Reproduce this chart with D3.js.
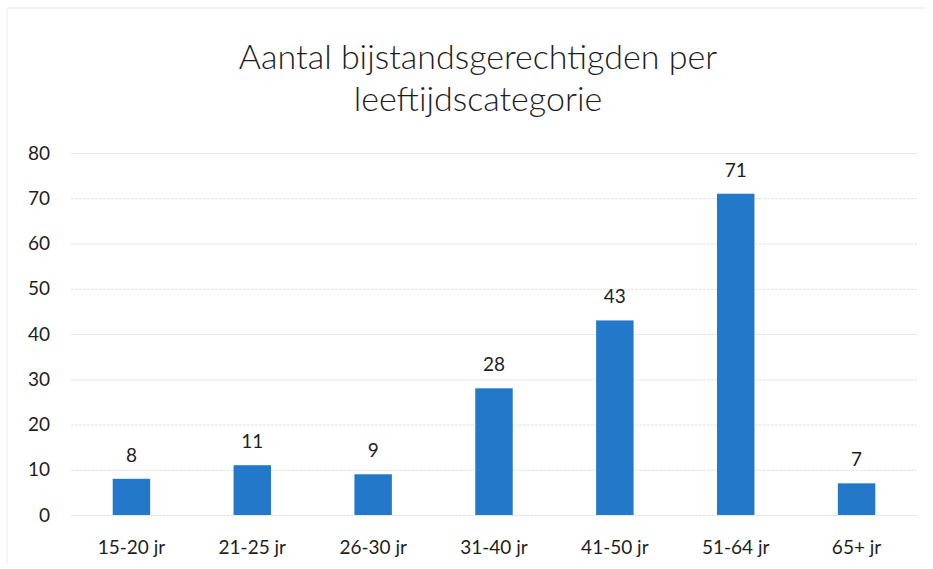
<!DOCTYPE html>
<html>
<head>
    <meta charset="UTF-8" />
    <title>Aantal bijstandsgerechtigden per leeftijdscategorie</title>
    <script src="https://d3js.org/d3.v7.min.js"></script>
    <style>
        body { margin: 0; background: #fff; }
        text { font-family: Lato, "Open Sans", sans-serif; fill: #1e1e1e; }
        .grid line { stroke: #e2e2e2; stroke-width: 1px; stroke-dasharray: 3 1; }
        .grid path { display: none; }
    </style>
</head>
<body>
    <svg id="chart" width="933" height="569"></svg>
    <script>
        // chart data
        var categories = ['15-20 jr', '21-25 jr', '26-30 jr', '31-40 jr', '41-50 jr', '51-64 jr', '65+ jr'];
        var values = [8, 11, 9, 28, 43, 71, 7];
        var yTicks = [0, 10, 20, 30, 40, 50, 60, 70, 80];
        var titleLines = ['Aantal bijstandsgerechtigden per', 'leeftijdscategorie'];

        var svg = d3.select('#chart');
        var margin = { top: 153, right: 16, bottom: 54, left: 71 };
        var width = 933 - margin.left - margin.right;
        var height = 569 - margin.top - margin.bottom;

        // faint frame of the scanned chart area
        svg.append('line').attr('x1', 8).attr('x2', 925).attr('y1', 8).attr('y2', 8)
            .attr('stroke', '#e4e4e4');
        svg.append('line').attr('x1', 7).attr('x2', 7).attr('y1', 8).attr('y2', 565)
            .attr('stroke', '#ececec');

        // title
        svg.selectAll('.title')
            .data(titleLines)
            .enter()
            .append('text')
            .attr('class', 'title')
            .attr('x', 478)
            .attr('y', function (d, i) { return 69 + i * 42; })
            .attr('text-anchor', 'middle')
            .style('font-size', '34px')
            .style('font-weight', 300)
            .text(function (d) { return d; });

        var g = svg.append('g').attr('transform', 'translate(' + margin.left + ',' + margin.top + ')');

        var x = d3.scaleBand().domain(categories).range([0, width]).paddingInner(0.69).paddingOuter(0.345);
        var y = d3.scaleLinear().domain([0, 80]).range([height, 0]);

        // gridlines
        g.append('g')
            .attr('class', 'grid')
            .call(d3.axisLeft(y).tickValues(yTicks).tickSize(-width).tickFormat(''));

        // y tick labels
        g.selectAll('.ylab')
            .data(yTicks)
            .enter()
            .append('text')
            .attr('x', -21)
            .attr('y', function (d) { return y(d); })
            .attr('dy', '0.35em')
            .attr('text-anchor', 'end')
            .style('font-size', '19px')
            .text(function (d) { return d; });

        // bars
        g.selectAll('.bar')
            .data(values)
            .enter()
            .append('rect')
            .attr('class', 'bar')
            .attr('x', function (d, i) { return x(categories[i]); })
            .attr('y', function (d) { return y(d); })
            .attr('width', x.bandwidth())
            .attr('height', function (d) { return height - y(d); })
            .attr('fill', '#2378c9');

        // value labels
        g.selectAll('.val')
            .data(values)
            .enter()
            .append('text')
            .attr('x', function (d, i) { return x(categories[i]) + x.bandwidth() / 2; })
            .attr('y', function (d) { return y(d) - 17; })
            .attr('text-anchor', 'middle')
            .style('font-size', '19px')
            .text(function (d) { return d; });

        // x labels
        g.selectAll('.xlab')
            .data(categories)
            .enter()
            .append('text')
            .attr('x', function (d) { return x(d) + x.bandwidth() / 2; })
            .attr('y', height + 39)
            .attr('text-anchor', 'middle')
            .style('font-size', '19px')
            .text(function (d) { return d; });
    </script>
</body>
</html>
